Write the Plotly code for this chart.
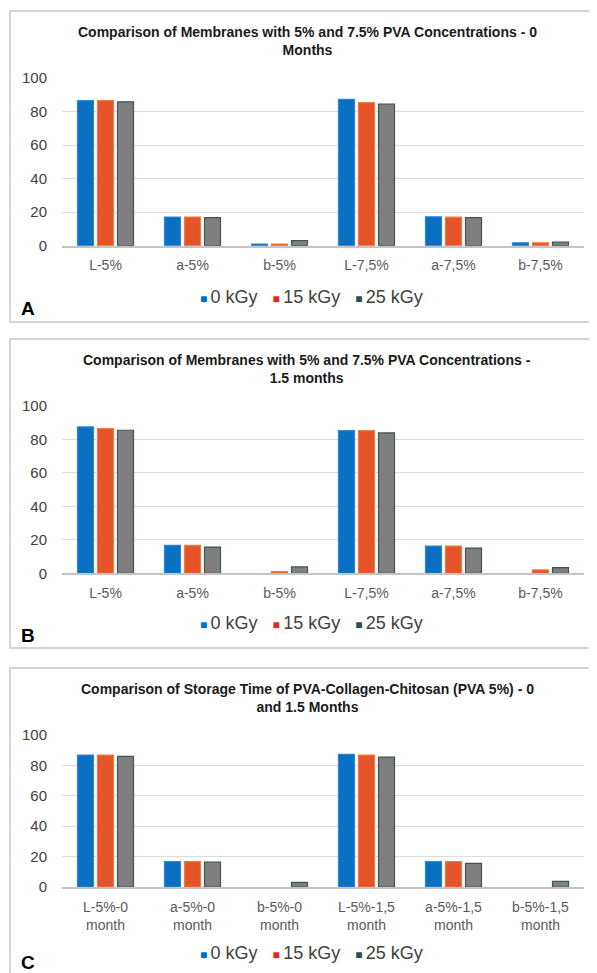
import plotly.graph_objects as go

# ---------------- data ----------------
series_names = ["0 kGy", "15 kGy", "25 kGy"]

cats_a = ["L-5%", "a-5%", "b-5%", "L-7,5%", "a-7,5%", "b-7,5%"]
a_0kgy = [86.5, 17.1, 1.0, 87.3, 17.2, 1.7]
a_15kgy = [86.5, 17.1, 1.0, 85.3, 17.0, 1.7]
a_25kgy = [85.8, 16.7, 3.0, 84.5, 16.8, 2.1]

cats_b = ["L-5%", "a-5%", "b-5%", "L-7,5%", "a-7,5%", "b-7,5%"]
b_0kgy = [87.5, 16.7, 0.0, 85.3, 16.3, 0.0]
b_15kgy = [86.5, 16.7, 1.0, 85.3, 16.3, 2.0]
b_25kgy = [85.5, 15.7, 3.8, 83.9, 15.1, 3.4]

cats_c = ["L-5%-0 month", "a-5%-0 month", "b-5%-0 month",
          "L-5%-1,5 month", "a-5%-1,5 month", "b-5%-1,5 month"]
c_0kgy = [86.8, 16.7, 0.0, 87.3, 16.7, 0.0]
c_15kgy = [86.8, 16.7, 0.0, 86.8, 16.7, 0.0]
c_25kgy = [85.9, 16.3, 3.1, 85.5, 15.6, 3.7]

y_ticks = [0, 20, 40, 60, 80, 100]

titles = [
    "Comparison of Membranes with 5% and 7.5% PVA Concentrations - 0<br>Months",
    "Comparison of Membranes with 5% and 7.5% PVA Concentrations -<br>1.5 months",
    "Comparison of Storage Time of PVA-Collagen-Chitosan (PVA 5%) - 0<br>and 1.5 Months",
]
panel_letters = ["A", "B", "C"]

# ---------------- styling ----------------
OFF = 8                     # default page (body) margin of the html page
W, H = 597 - OFF, 973 - OFF
FONT = "Liberation Sans, Arial, sans-serif"
bar_fill = ["#0A6FC1", "#E4532A", "#7F7F7F"]
bar_line = ["#2F86CF", "#EE7A3C", "#3E5656"]
legend_sq = ["#0070C0", "#E8261E", "#2F4F4F"]


def px_x(x):
    return (x - OFF) / W


def px_y(y):
    return 1 - (y - OFF) / H


panels = [
    dict(top=78, base=245.7, box0=11, box1=322, title=41, legend=297, letter=308.5),
    dict(top=406, base=573.3, box0=339, box1=648, title=368.5, legend=623, letter=635),
    dict(top=735, base=887, box0=668, box1=990, title=698, legend=953, letter=962),
]

data_sets = [
    (cats_a, [a_0kgy, a_15kgy, a_25kgy]),
    (cats_b, [b_0kgy, b_15kgy, b_25kgy]),
    (cats_c, [c_0kgy, c_15kgy, c_25kgy]),
]

fig = go.Figure()
layout = dict(
    width=W, height=H,
    margin=dict(l=0, r=0, t=0, b=0, pad=0, autoexpand=False),
    paper_bgcolor="white", plot_bgcolor="white",
    barmode="group", bargap=0.31, bargroupgap=0.2,
    showlegend=False,
    font=dict(family=FONT, color="#404040"),
)

annotations = []
shapes = []
x_dom = [px_x(62), px_x(584)]

for i, (cats, vals) in enumerate(data_sets):
    n = "" if i == 0 else str(i + 1)
    p = panels[i]
    for k, v in enumerate(vals):
        widths = [0 if val == 0 else 1.2 for val in v]
        fig.add_trace(go.Bar(
            x=cats, y=v, name=series_names[k],
            marker=dict(color=bar_fill[k], line=dict(color=bar_line[k], width=widths)),
            xaxis="x" + n, yaxis="y" + n,
        ))
    ticktext = [c.replace(" month", "<br>month") for c in cats]
    layout["xaxis" + n] = dict(
        domain=x_dom, anchor="y" + n, type="category", automargin=False,
        tickvals=cats, ticktext=ticktext,
        showline=True, linecolor="#C4C4C4", linewidth=1.5,
        showgrid=False, ticks="", ticklabelstandoff=6,
        tickfont=dict(family=FONT, size=14, color="#595959"),
        fixedrange=True,
    )
    layout["yaxis" + n] = dict(
        domain=[px_y(p["base"]), px_y(p["top"])], anchor="x" + n, automargin=False,
        range=[0, 100], tickvals=y_ticks,
        showgrid=True, gridcolor="#DCDCDC", gridwidth=1,
        zeroline=False, showline=False, ticks="", ticklabelstandoff=14,
        tickfont=dict(family=FONT, size=15, color="#404040"),
        fixedrange=True,
    )
    shapes.append(dict(type="rect", xref="paper", yref="paper",
                       x0=px_x(10), x1=px_x(605), y0=px_y(p["box1"]), y1=px_y(p["box0"]),
                       line=dict(color="#C8C8C8", width=1.5), fillcolor="rgba(0,0,0,0)",
                       layer="below"))
    annotations.append(dict(text="<b>" + titles[i] + "</b>", xref="paper", yref="paper",
                            x=px_x(307), y=px_y(p["title"]), xanchor="center", yanchor="middle",
                            showarrow=False, align="center",
                            font=dict(family=FONT, size=14, color="#1A1A1A")))
    parts = []
    for k, name in enumerate(series_names):
        parts.append("<span style='font-size:12px;color:%s'>■ </span>%s" % (legend_sq[k], name))
    annotations.append(dict(text="   ".join(parts), xref="paper", yref="paper",
                            x=px_x(311), y=px_y(p["legend"]), xanchor="center", yanchor="middle",
                            showarrow=False,
                            font=dict(family=FONT, size=18, color="#404040")))
    annotations.append(dict(text="<b>%s</b>" % panel_letters[i], xref="paper", yref="paper",
                            x=px_x(28), y=px_y(p["letter"]), xanchor="center", yanchor="middle",
                            showarrow=False,
                            font=dict(family=FONT, size=19, color="#000000")))

layout["annotations"] = annotations
layout["shapes"] = shapes
fig.update_layout(**layout)
fig.write_html("out.html")
